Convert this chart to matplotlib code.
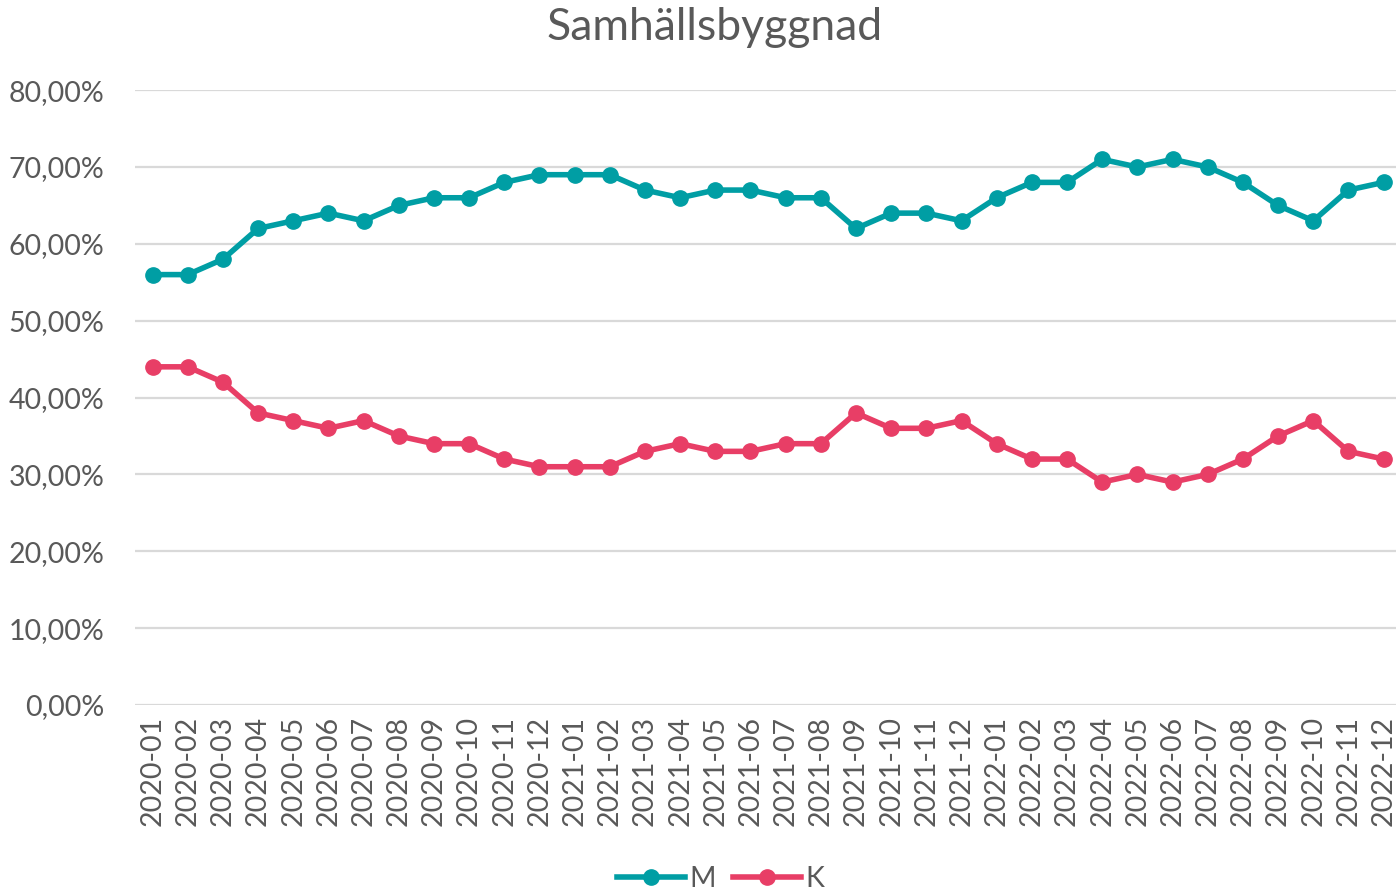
import matplotlib.pyplot as plt
from matplotlib.ticker import FuncFormatter

plt.rcParams['font.family'] = ['Lato', 'DejaVu Sans']

months = ['2020-01', '2020-02', '2020-03', '2020-04', '2020-05', '2020-06',
          '2020-07', '2020-08', '2020-09', '2020-10', '2020-11', '2020-12',
          '2021-01', '2021-02', '2021-03', '2021-04', '2021-05', '2021-06',
          '2021-07', '2021-08', '2021-09', '2021-10', '2021-11', '2021-12',
          '2022-01', '2022-02', '2022-03', '2022-04', '2022-05', '2022-06',
          '2022-07', '2022-08', '2022-09', '2022-10', '2022-11', '2022-12']
m_vals = [56, 56, 58, 62, 63, 64, 63, 65, 66, 66, 68, 69,
          69, 69, 67, 66, 67, 67, 66, 66, 62, 64, 64, 63,
          66, 68, 68, 71, 70, 71, 70, 68, 65, 63, 67, 68]
k_vals = [44, 44, 42, 38, 37, 36, 37, 35, 34, 34, 32, 31,
          31, 31, 33, 34, 33, 33, 34, 34, 38, 36, 36, 37,
          34, 32, 32, 29, 30, 29, 30, 32, 35, 37, 33, 32]

grey = '#595959'
fig = plt.figure(figsize=(13.96, 8.91), dpi=100)
ax = fig.add_axes([0.0967, 0.2088, 0.907, 0.690])

x = range(len(months))
ax.plot(x, m_vals, '-o', color='#009EA4', lw=4.0, ms=11, label='M', zorder=3)
ax.plot(x, k_vals, '-o', color='#E83E66', lw=4.0, ms=11, label='K', zorder=3)

ax.set_xlim(-0.5, len(months) - 0.5)
ax.set_ylim(0, 80)
ax.set_yticks(range(0, 81, 10))
ax.yaxis.set_major_formatter(FuncFormatter(lambda v, p: '{:.2f}%'.format(v).replace('.', ',')))
ax.set_xticks(list(x))
ax.set_xticklabels(months, rotation=90)
ax.grid(axis='y', color='#d9d9d9', lw=1.6)
ax.set_axisbelow(True)
for s in ax.spines.values():
    s.set_visible(False)
ax.tick_params(length=0, labelsize=20.5, colors=grey, pad=8)
ax.tick_params(axis='y', pad=22)

fig.text(0.512, 0.969, 'Samhällsbyggnad', ha='center', va='center', fontsize=32, color=grey)
fig.legend(loc='lower center', bbox_to_anchor=(0.516, -0.03), ncol=2, frameon=False,
           fontsize=20.5, labelcolor=grey, handlelength=2.4, handletextpad=0.15, columnspacing=0.6)

fig.savefig('out.png')
